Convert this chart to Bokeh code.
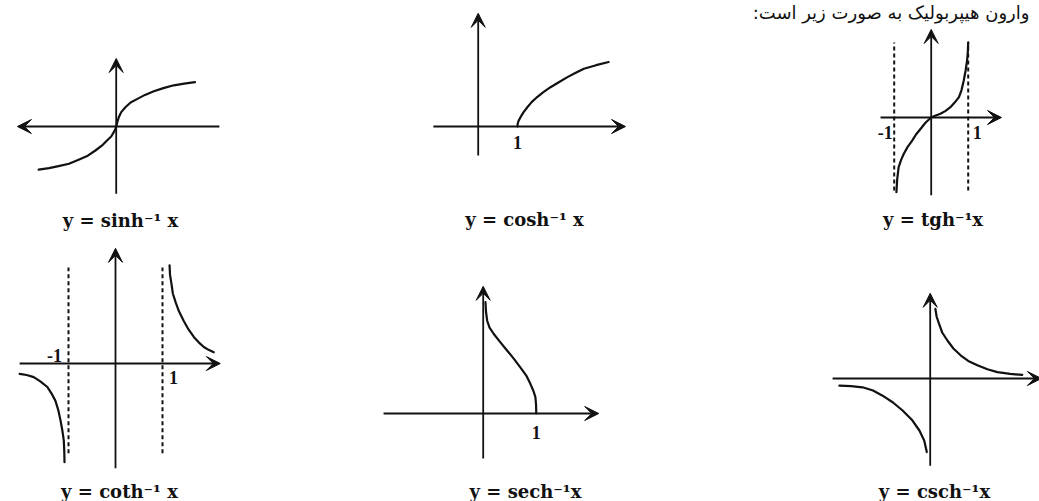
from bokeh.plotting import figure
from bokeh.models import Range1d, Arrow, VeeHead
from bokeh.core.properties import value
from bokeh.embed import file_html
from bokeh.resources import INLINE

# ---------------- data (in each panel's own units) -------------
sinh_u = [-1.94, -1.68, -1.44, -1.18, -0.94, -0.71, -0.52, -0.36, -0.23, -0.125, -0.06, -0.025,
          0.0, 0.025, 0.065, 0.125, 0.23, 0.36, 0.53, 0.72, 0.94, 1.18, 1.44, 1.70, 1.97]
sinh_v = [-1.08, -1.04, -0.99, -0.93, -0.83, -0.73, -0.60, -0.48, -0.35, -0.25, -0.14, -0.075,
          0.0, 0.10, 0.23, 0.36, 0.48, 0.60, 0.69, 0.79, 0.88, 0.96, 1.03, 1.07, 1.11]

cosh_u = [1.0, 1.005, 1.03, 1.08, 1.15, 1.25, 1.36, 1.50, 1.65, 1.84, 2.04, 2.26, 2.47, 2.69, 3.0, 3.32]
cosh_v = [0.0, 0.076, 0.15, 0.24, 0.36, 0.49, 0.62, 0.75, 0.87, 1.00, 1.12, 1.25, 1.36, 1.47, 1.56, 1.64]

tgh_u = [-0.94, -0.92, -0.88, -0.81, -0.74, -0.64, -0.51, -0.41, -0.29, -0.15, 0.0,
         0.12, 0.25, 0.39, 0.52, 0.64, 0.75, 0.82, 0.88, 0.93, 0.97, 0.99, 1.0]
tgh_v = [-2.02, -1.68, -1.34, -1.14, -0.98, -0.80, -0.62, -0.46, -0.31, -0.135, 0.0,
         0.054, 0.10, 0.18, 0.28, 0.41, 0.55, 0.74, 1.00, 1.27, 1.54, 1.78, 2.03]

coth_left_u = [-2.04, -1.89, -1.74, -1.60, -1.45, -1.36, -1.28, -1.22, -1.17, -1.13, -1.10, -1.09, -1.085]
coth_left_v = [-0.22, -0.245, -0.29, -0.38, -0.50, -0.64, -0.79, -0.98, -1.21, -1.43, -1.64, -1.87, -2.10]
coth_right_u = [1.15, 1.16, 1.19, 1.22, 1.28, 1.35, 1.45, 1.55, 1.67, 1.77, 1.88, 1.98, 2.09]
coth_right_v = [2.09, 1.89, 1.70, 1.49, 1.30, 1.11, 0.91, 0.73, 0.56, 0.45, 0.35, 0.29, 0.24]

sech_u = [0.043, 0.053, 0.075, 0.12, 0.20, 0.31, 0.45, 0.58, 0.70, 0.81, 0.89, 0.95, 0.985, 0.997, 1.0, 1.0]
sech_v = [2.10, 1.92, 1.75, 1.62, 1.50, 1.36, 1.19, 1.03, 0.87, 0.72, 0.56, 0.42, 0.31, 0.17, 0.06, 0.0]

csch_right_u = [0.13, 0.16, 0.22, 0.30, 0.43, 0.58, 0.76, 0.95, 1.18, 1.43, 1.68, 2.00, 2.30]
csch_right_v = [1.74, 1.55, 1.37, 1.15, 0.95, 0.75, 0.58, 0.44, 0.33, 0.23, 0.16, 0.115, 0.09]
csch_left_u = [-2.27, -1.98, -1.69, -1.43, -1.19, -0.93, -0.69, -0.46, -0.27, -0.15, -0.085]
csch_left_v = [-0.18, -0.19, -0.22, -0.30, -0.43, -0.60, -0.80, -1.03, -1.30, -1.55, -1.84]

asymptotes_tgh = [-1, 1]
asymptotes_coth = [-1, 1]

labels = ["y = sinh⁻¹ x", "y = cosh⁻¹ x", "y = tgh⁻¹x",
          "y = coth⁻¹ x", "y = sech⁻¹x", "y = csch⁻¹x"]
heading = "وارون هیپربولیک به صورت زیر است:"

# ---------------- figure ----------------
W, H = 1039, 501
p = figure(width=W, height=H, x_range=Range1d(0, W), y_range=Range1d(H, 0),
           output_backend="svg", toolbar_location=None, min_border=0,
           x_axis_location=None, y_axis_location=None)
p.grid.visible = False
p.outline_line_color = None
p.background_fill_color = "white"
p.border_fill_color = "white"
p.styles = {"position": "absolute", "left": "0px", "top": "0px"}

INK = "#111111"


class Panel:
    def __init__(self, ox, oy, unit):
        self.ox, self.oy, self.unit = ox, oy, unit

    def X(self, us):
        return [self.ox + u * self.unit for u in us]

    def Y(self, vs):
        return [self.oy - v * self.unit for v in vs]

    def axes(self, xl, xr, yb, yt, left_arrow=False):
        head = lambda: VeeHead(size=14, fill_color=INK, line_color=INK, line_width=1)
        xa, xb = (xr, xl) if left_arrow else (xl, xr)
        p.add_layout(Arrow(end=head(), x_start=self.ox + xa * self.unit, y_start=self.oy,
                           x_end=self.ox + xb * self.unit, y_end=self.oy,
                           line_color=INK, line_width=1.8))
        p.add_layout(Arrow(end=head(), x_start=self.ox, y_start=self.oy - yb * self.unit,
                           x_end=self.ox, y_end=self.oy - yt * self.unit,
                           line_color=INK, line_width=1.8))

    def curve(self, us, vs):
        p.line(self.X(us), self.Y(vs), line_color=INK, line_width=2.2,
               line_join="round", line_cap="round")

    def dashed(self, xs, vb, vt):
        for u in xs:
            p.line(self.X([u, u]), self.Y([vb, vt]), line_color=INK, line_width=2,
                   line_dash="4 3")

    def tick_text(self, u, v, txt, dx=0, dy=0):
        p.text(x=[self.ox + u * self.unit + dx], y=[self.oy - v * self.unit + dy], text=[txt],
               text_font=value("Liberation Serif"), text_font_style="bold",
               text_font_size="18px", text_align="center", text_baseline="middle",
               text_color=INK)


def caption(x, y, txt):
    p.text(x=[x], y=[y], text=[txt], text_font=value("DejaVu Serif"),
           text_font_style="bold", text_font_size="18px", text_align="center",
           text_baseline="bottom", text_color=INK)


# sinh^-1
A = Panel(115.7, 126, 40)
A.axes(-2.47, 2.58, -1.68, 1.7, left_arrow=True)
A.curve(sinh_u, sinh_v)
caption(120, 230, labels[0])

# cosh^-1
B = Panel(477.7, 126, 39.3)
B.axes(-1.14, 3.75, -0.74, 2.88)
B.curve(cosh_u, cosh_v)
B.tick_text(1, 0, "1", dy=16)
caption(524, 229, labels[1])

# tgh^-1
C = Panel(930.7, 117, 37)
C.axes(-1.37, 1.9, -2.1, 2.38)
C.dashed(asymptotes_tgh, -1.97, 2.03)
C.curve(tgh_u, tgh_v)
C.tick_text(-1, 0, "-1", dx=-9, dy=15)
C.tick_text(1, 0, "1", dx=9, dy=15)
caption(932.5, 229, labels[2])

# coth^-1
D = Panel(115, 363, 47)
D.axes(-2.04, 2.23, -2.23, 2.45)
D.dashed(asymptotes_coth, -1.91, 2.04)
D.curve(coth_left_u, coth_left_v)
D.curve(coth_right_u, coth_right_v)
D.tick_text(-1, 0, "-1", dx=-14, dy=-8)
D.tick_text(1, 0, "1", dx=11, dy=14)
caption(119, 501, labels[3])

# sech^-1
E = Panel(482.7, 413, 53)
E.axes(-1.88, 2.18, -0.85, 2.4)
E.curve(sech_u, sech_v)
E.tick_text(1, 0, "1", dy=19)
caption(525, 501, labels[4])

# csch^-1
F = Panel(929.7, 378, 40)
F.axes(-2.44, 2.78, -2.18, 2.13)
F.curve(csch_right_u, csch_right_v)
F.curve(csch_left_u, csch_left_v)
caption(934, 501, labels[5])

# heading (Persian) at the very top of the page
p.text(x=[1029], y=[12], text=[heading + "\u200f"], text_font=value("DejaVu Sans"),
       text_font_size="18px", text_align="right", text_baseline="alphabetic",
       text_color=INK)

open("out.html", "w").write(file_html(p, INLINE))
